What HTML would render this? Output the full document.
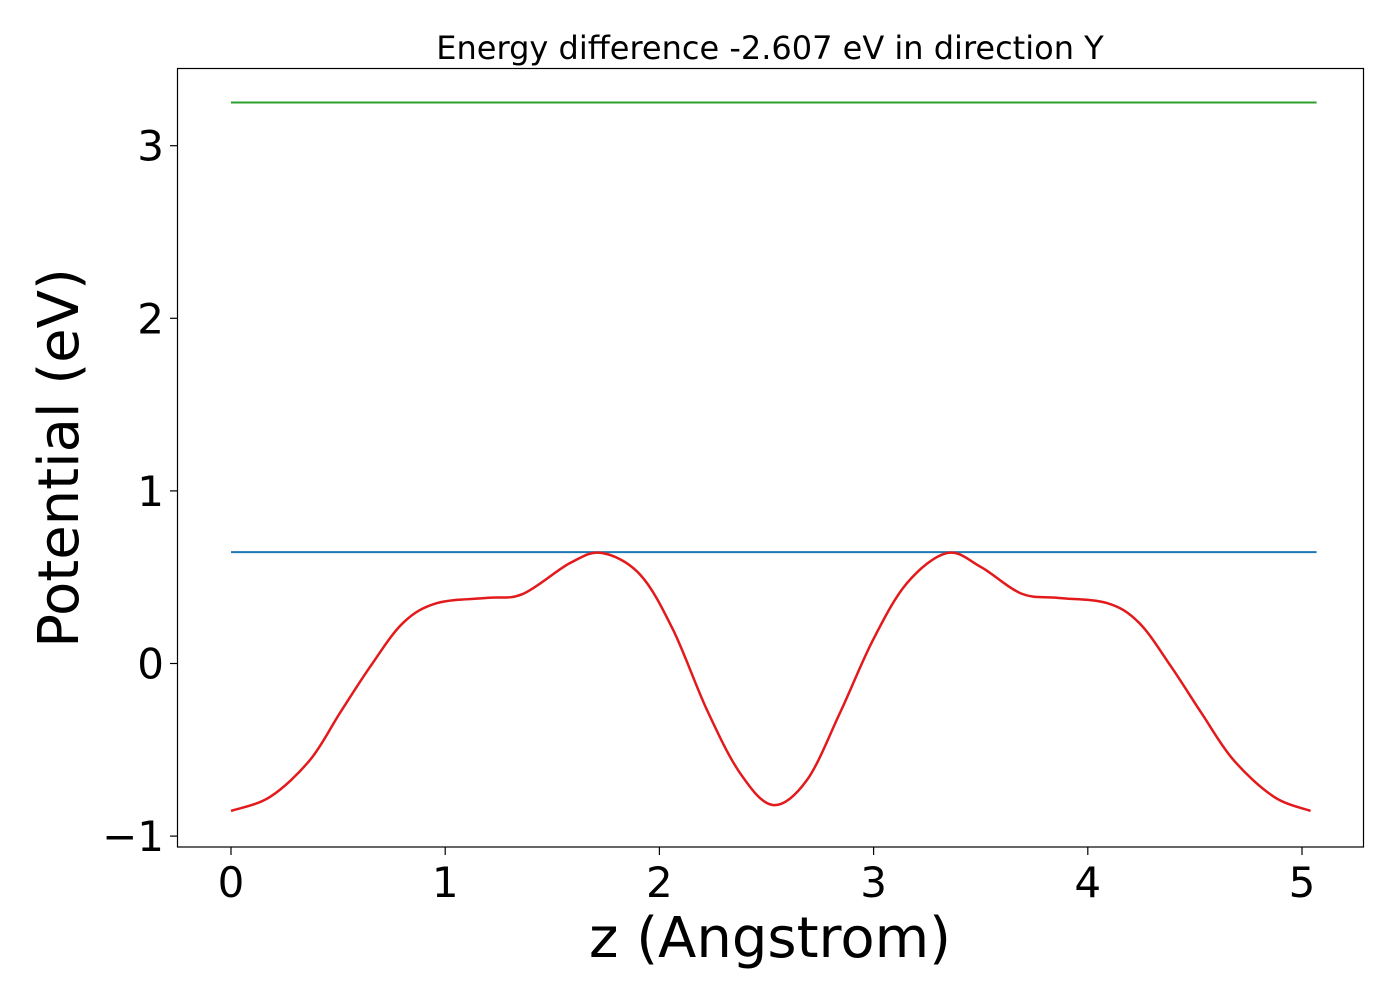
<!DOCTYPE html>
<html><head><meta charset="utf-8"><style>
html,body{margin:0;padding:0;background:#fff;}
svg{display:block;font-family:"DejaVu Sans","Liberation Sans",sans-serif;}
</style></head><body>
<svg id="chart" width="1400" height="1000" viewBox="0 0 1400 1000" xmlns="http://www.w3.org/2000/svg">
<rect x="0" y="0" width="1400" height="1000" fill="#fff"/>
<text x="770" y="59" font-size="32" text-anchor="middle">Energy difference -2.607 eV in direction Y</text>
<g id="plot"></g>
<rect x="177.5" y="68.5" width="1186" height="778.5" fill="none" stroke="#000" stroke-width="1.2"/>
<text x="770" y="957" font-size="56" text-anchor="middle">z (Angstrom)</text>
<text transform="translate(78,458) rotate(-90)" font-size="56" text-anchor="middle">Potential (eV)</text>
</svg>
<script>
const zVals = [0,0.182,0.369,0.509,0.649,0.803,0.962,1.195,1.363,1.583,1.732,1.91,2.064,2.222,2.376,2.53,2.689,2.843,2.997,3.156,3.343,3.5,3.69,3.86,4.09,4.24,4.39,4.53,4.68,4.87,5.04];
const potVals = [-0.854,-0.773,-0.559,-0.286,-0.02,0.235,0.35,0.38,0.403,0.582,0.640,0.515,0.195,-0.269,-0.634,-0.82,-0.675,-0.286,0.136,0.466,0.640,0.560,0.405,0.38,0.35,0.235,-0.02,-0.286,-0.559,-0.773,-0.854];
const greenLevel = 3.25;
const blueLevel = 0.645;
const xTicks = [0,1,2,3,4,5];
const yTicks = [-1,0,1,2,3];
const yTickLabels = ["\u22121","0","1","2","3"];

const X = z => 231 + z*214.2;
const Y = v => 663.5 - v*172.6;
const g = document.getElementById('plot');
const NS = 'http://www.w3.org/2000/svg';
function mk(tag, attrs){const e=document.createElementNS(NS,tag);for(const k in attrs)e.setAttribute(k,attrs[k]);g.appendChild(e);return e;}

xTicks.forEach(t=>{
  const l=mk('line',{x1:X(t),x2:X(t),y1:847,y2:855,stroke:'#000','stroke-width':1.2});
  
  
  const tx=mk('text',{x:X(t),y:897,'font-size':42,'text-anchor':'middle'});
  tx.textContent=String(t);
  
  
});
yTicks.forEach((t,i)=>{
  const l=mk('line',{x1:170,x2:177.5,y1:Y(t),y2:Y(t),stroke:'#000','stroke-width':1.2});
  
  
  const tx=mk('text',{x:164,y:Y(t)+15,'font-size':42,'text-anchor':'end'});
  tx.textContent=yTickLabels[i];
  
  
});
const zMax = zVals[zVals.length-1];
const gl=mk('line',{x1:X(0),x2:X(zMax)+6,y1:Y(greenLevel),y2:Y(greenLevel),stroke:'#2ca02c','stroke-width':2});


const bl=mk('line',{x1:X(0),x2:X(zMax)+6,y1:Y(blueLevel),y2:Y(blueLevel),stroke:'#1f77b4','stroke-width':2});



// Catmull-Rom smooth path
const pts = zVals.map((z,i)=>[X(z),Y(potVals[i])]);
let d='M'+pts[0][0]+','+pts[0][1];
for(let i=0;i<pts.length-1;i++){
  const p0=pts[Math.max(0,i-1)],p1=pts[i],p2=pts[i+1],p3=pts[Math.min(pts.length-1,i+2)];
  const c1=[p1[0]+(p2[0]-p0[0])/6,p1[1]+(p2[1]-p0[1])/6];
  const c2=[p2[0]-(p3[0]-p1[0])/6,p2[1]-(p3[1]-p1[1])/6];
  d+=' C'+c1[0]+','+c1[1]+' '+c2[0]+','+c2[1]+' '+p2[0]+','+p2[1];
}
const rc=mk('path',{d:d,fill:'none',stroke:'#e31a1c','stroke-width':2.5});


</script>
</body></html>
